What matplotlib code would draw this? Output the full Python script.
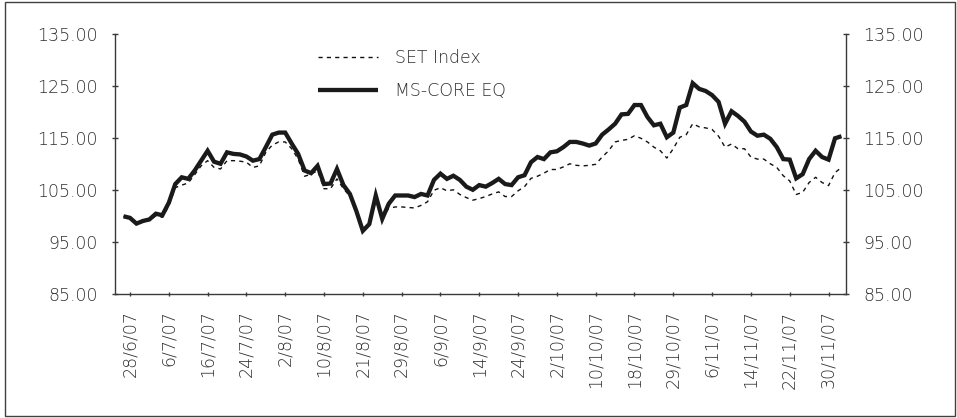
import matplotlib
matplotlib.use("Agg")
import matplotlib.pyplot as plt
from matplotlib.patches import Rectangle
from matplotlib.ticker import FormatStrFormatter
from matplotlib import font_manager
import numpy as np

# ---- data (daily values, 27/6/07 .. 4/12/07) ----
ms_core_eq = [
    100.0, 99.7, 98.6, 99.1, 99.4, 100.5, 100.2, 102.6, 106.2, 107.5,
    107.2, 108.8, 110.7, 112.6, 110.5, 110.1, 112.3, 112.0, 111.9, 111.5,
    110.7, 111.0, 113.3, 115.7, 116.1, 116.1, 114.0, 112.0, 108.8, 108.3,
    109.7, 106.2, 106.3, 109.1, 106.0, 104.3, 101.0, 97.2, 98.5, 104.0,
    99.5, 102.4, 104.0, 104.0, 104.0, 103.7, 104.3, 104.0, 107.0, 108.2,
    107.2, 107.8, 107.0, 105.7, 105.1, 106.0, 105.7, 106.4, 107.2, 106.2,
    106.0, 107.5, 107.9, 110.4, 111.4, 111.0, 112.3, 112.5, 113.3, 114.3,
    114.3, 114.0, 113.6, 114.0, 115.7, 116.7, 117.8, 119.6, 119.7, 121.4,
    121.4, 119.1, 117.5, 117.8, 115.2, 116.1, 120.9, 121.4, 125.6, 124.5,
    124.1, 123.3, 122.0, 117.8, 120.2, 119.3, 118.2, 116.3, 115.5, 115.7,
    114.9, 113.3, 111.0, 110.9, 107.3, 108.1, 111.0, 112.6, 111.4, 110.9,
    115.0, 115.4,
]
set_index = [
    100.0, 99.6, 98.5, 98.9, 99.2, 100.1, 99.8, 102.0, 105.5, 106.0,
    106.4, 108.0, 109.7, 110.7, 109.4, 109.1, 110.7, 110.7, 110.6, 110.4,
    109.4, 109.7, 112.3, 113.7, 114.3, 114.3, 113.0, 111.0, 107.7, 108.1,
    108.8, 105.3, 105.3, 107.2, 105.3, 103.9, 101.0, 97.6, 98.3, 103.0,
    99.8, 101.5, 101.8, 101.8, 101.7, 101.6, 102.1, 102.8, 105.0, 105.5,
    104.9, 105.1, 104.2, 103.6, 103.1, 103.4, 103.8, 104.3, 104.7, 103.8,
    103.8, 104.9, 105.7, 107.3, 107.7, 108.3, 109.0, 109.0, 109.5, 110.1,
    109.8, 109.7, 109.8, 110.0, 111.4, 112.6, 114.3, 114.6, 114.8, 115.5,
    115.0, 114.3, 113.3, 112.6, 111.2, 113.0, 115.2, 115.7, 117.8, 117.2,
    117.0, 116.7, 115.4, 113.3, 113.9, 113.0, 113.0, 111.4, 111.0, 111.0,
    110.1, 109.4, 107.8, 106.8, 104.2, 104.6, 106.5, 107.5, 106.5, 105.9,
    108.4, 109.4,
]
tick_labels = ["28/6/07", "6/7/07", "16/7/07", "24/7/07", "2/8/07", "10/8/07",
               "21/8/07", "29/8/07", "6/9/07", "14/9/07", "24/9/07", "2/10/07",
               "10/10/07", "18/10/07", "29/10/07", "6/11/07", "14/11/07",
               "22/11/07", "30/11/07"]
y_ticks = [85, 95, 105, 115, 125, 135]
series_names = ["SET Index", "MS-CORE EQ"]

# ---- figure ----
W, H = 957, 418
fig = plt.figure(figsize=(W / 100, H / 100), dpi=100)
plt.rcParams['font.family'] = ['DejaVu Sans']

# use a light weight if one is installed
light_weight = 'normal'
for f in font_manager.fontManager.ttflist:
    if f.name == 'DejaVu Sans' and (f.weight in (200, 'extra-light', 'ultralight', 'light', 300)):
        light_weight = 200
        break
plt.rcParams['font.weight'] = light_weight

txt_color = '#2e2e2e' if light_weight != 'normal' else '#4a4a4a'
ax_color = '#3a3a3a'
fs = 12.5

ax = fig.add_axes([115.3 / W, 1 - 294.3 / H, (846 - 115.3) / W, (294.3 - 34.3) / H])

x = np.arange(len(ms_core_eq))
ax.plot(x, set_index, color='#111111', linewidth=1.0, linestyle=(0, (3.0, 3.0)),
        label=series_names[0])
ax.plot(x, ms_core_eq, color='#1a1a1a', linewidth=3.1, solid_joinstyle='miter',
        solid_capstyle='butt', label=series_names[1])

ax.set_xlim(-1.27, 111.7)
ax.set_ylim(85, 135)
ax.set_yticks(y_ticks)
ax.yaxis.set_major_formatter(FormatStrFormatter('%.2f'))
tick_pos = np.arange(1, len(ms_core_eq), 6)[:len(tick_labels)]
ax.set_xticks(tick_pos)
ax.set_xticklabels(tick_labels, rotation=90)

for s in ['left', 'right', 'bottom']:
    ax.spines[s].set_color(ax_color)
    ax.spines[s].set_linewidth(1.0)
ax.spines['top'].set_visible(False)

ax.tick_params(axis='y', which='major', direction='inout', length=4.8, width=1.0,
               color=ax_color, labelsize=fs, labelcolor=txt_color, pad=10,
               left=True, right=True, labelleft=True, labelright=True)
ax.tick_params(axis='x', which='major', direction='inout', length=3.5, width=1.0,
               color=ax_color, labelsize=fs, labelcolor=txt_color, pad=10)

leg = ax.legend(loc='center left', bbox_to_anchor=(318 / W, 1 - 74.2 / H),
                bbox_transform=fig.transFigure, frameon=False, fontsize=fs,
                handlelength=3.45, handletextpad=1.0, labelspacing=0.85,
                borderpad=0, borderaxespad=0)
for t in leg.get_texts():
    t.set_color(txt_color)

# outer frame
fig.patches.append(Rectangle((5 / W, 2 / H), 950 / W, 414 / H, transform=fig.transFigure,
                             fill=False, edgecolor='#404040', linewidth=1.0))

fig.savefig('out.png', dpi=100)
